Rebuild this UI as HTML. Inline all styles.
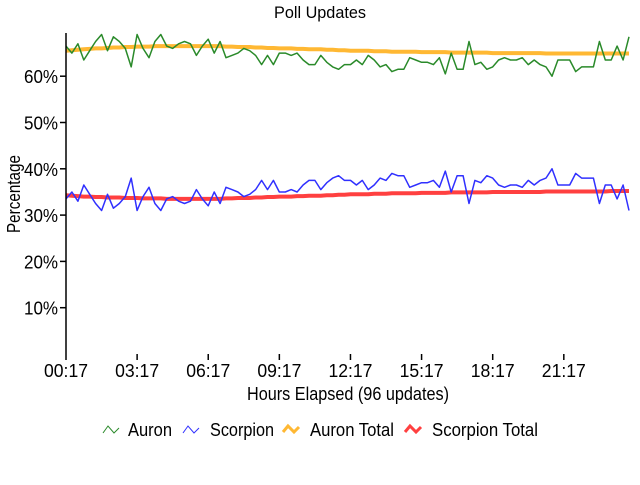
<!DOCTYPE html>
<html><head><meta charset="utf-8"><style>
body{margin:0;background:#fff;}
svg text{font-family:"Liberation Sans",sans-serif;fill:#000;}
</style></head><body>
<svg id="chart" width="640" height="480" xmlns="http://www.w3.org/2000/svg">
<text x="320" y="18" font-size="17" text-anchor="middle" textLength="92" lengthAdjust="spacingAndGlyphs">Poll Updates</text>
<g id="grid"></g>
<g id="series"></g>
<line x1="66" y1="33" x2="66" y2="354" stroke="#000" stroke-width="1.5"/>
<text transform="translate(20,194) rotate(-90)" font-size="18" text-anchor="middle" textLength="78" lengthAdjust="spacingAndGlyphs">Percentage</text>
<text x="348" y="400" font-size="18" text-anchor="middle" textLength="202" lengthAdjust="spacingAndGlyphs">Hours Elapsed (96 updates)</text>
<g font-size="18">
 <g><polyline points="103,433 108,426 114,433 119,428" fill="none" stroke="#2a8a2a" stroke-width="1"/><text x="128" y="436" textLength="44" lengthAdjust="spacingAndGlyphs">Auron</text></g>
 <g><polyline points="183,433 188,426 194,433 199,428" fill="none" stroke="#3030ff" stroke-width="1"/><text x="210" y="436" textLength="64" lengthAdjust="spacingAndGlyphs">Scorpion</text></g>
 <g><polyline points="283,432 288,426 294,432 299,427" fill="none" stroke="#ffb833" stroke-width="3"/><text x="310" y="436" textLength="84" lengthAdjust="spacingAndGlyphs">Auron Total</text></g>
 <g><polyline points="405,432 410,426 416,432 421,427" fill="none" stroke="#ff4040" stroke-width="3"/><text x="432" y="436" textLength="106" lengthAdjust="spacingAndGlyphs">Scorpion Total</text></g>
</g>
</svg>
<script>
const auron=[66.5,65,67,63.5,65.5,67.5,69,65.5,68.5,67.5,66,62,69,66,64,67.5,69,66.5,66,67,67.5,67,64.5,66.5,68,65,67.5,64,64.5,65,66,65.5,64.5,62.5,64.5,62.5,65,65,64.5,65,63.5,62.5,62.5,64.5,63,62,61.5,62.5,62.5,63.5,62.5,64.5,63.5,62,62.5,61,61.5,61.5,64,63.5,63,63,62.5,64,60.5,65,61.5,61.5,67.5,62.5,63,61.5,62,63.5,64,63.5,63.5,64,62.5,63.5,62.5,62,60,63.5,63.5,63.5,61,62,62,62,67.5,63.5,63.5,66.5,63.5,68.5];
const scorpion=[33.5,35,33,36.5,34.5,32.5,31,34.5,31.5,32.5,34,38,31,34,36,32.5,31,33.5,34,33,32.5,33,35.5,33.5,32,35,32.5,36,35.5,35,34,34.5,35.5,37.5,35.5,37.5,35,35,35.5,35,36.5,37.5,37.5,35.5,37,38,38.5,37.5,37.5,36.5,37.5,35.5,36.5,38,37.5,39,38.5,38.5,36,36.5,37,37,37.5,36,39.5,35,38.5,38.5,32.5,37.5,37,38.5,38,36.5,36,36.5,36.5,36,37.5,36.5,37.5,38,40,36.5,36.5,36.5,39,38,38,38,32.5,36.5,36.5,33.5,36.5,31];
const auronTotal=[65.5,65.6,65.7,65.8,65.9,66,66,66.1,66.2,66.2,66.3,66.3,66.4,66.4,66.4,66.5,66.5,66.5,66.5,66.5,66.5,66.5,66.5,66.5,66.5,66.5,66.5,66.4,66.4,66.3,66.3,66.3,66.2,66.2,66.1,66.1,66,66,66,65.9,65.9,65.8,65.8,65.8,65.7,65.7,65.6,65.6,65.5,65.5,65.5,65.5,65.4,65.4,65.4,65.3,65.3,65.3,65.3,65.3,65.2,65.2,65.2,65.2,65.2,65.1,65.1,65.1,65.1,65.1,65.1,65.1,65,65,65,65,65,65,65,65,65,64.9,64.9,64.9,64.9,64.9,64.9,64.9,64.9,64.9,64.9,64.9,64.9,64.9,64.9,64.9];
const scorpionTotal=[34.3,34.2,34.1,34,34,33.9,33.9,33.8,33.8,33.8,33.7,33.7,33.7,33.6,33.6,33.6,33.6,33.5,33.5,33.5,33.5,33.5,33.5,33.5,33.5,33.5,33.5,33.6,33.6,33.7,33.7,33.7,33.8,33.8,33.9,33.9,34,34,34,34.1,34.1,34.2,34.2,34.2,34.3,34.3,34.4,34.4,34.5,34.5,34.5,34.5,34.6,34.6,34.6,34.7,34.7,34.7,34.7,34.7,34.8,34.8,34.8,34.8,34.8,34.9,34.9,34.9,34.9,34.9,34.9,34.9,35,35,35,35,35,35,35,35,35,35.1,35.1,35.1,35.1,35.1,35.1,35.1,35.1,35.1,35.1,35.1,35.2,35.2,35.2,35.2];
const yTicks=[10,20,30,40,50,60];
const yTickLabels=["10%","20%","30%","40%","50%","60%"];
const xTickIdx=[0,12,24,36,48,60,72,84];
const xTickLabels=["00:17","03:17","06:17","09:17","12:17","15:17","18:17","21:17"];
const NS="http://www.w3.org/2000/svg";
const x0=66,x1=629,yBase=354,pxPer=4.63;
function xs(i){return x0+i*(x1-x0)/95;}
function ys(v){return yBase-v*pxPer;}
const grid=document.getElementById('grid'),ser=document.getElementById('series');
function mk(tag,attrs,parent){const e=document.createElementNS(NS,tag);for(const k in attrs)e.setAttribute(k,attrs[k]);parent.appendChild(e);return e;}
yTicks.forEach((v,k)=>{
 const t=mk('line',{x1:60,x2:66,y1:ys(v),y2:ys(v),stroke:'#000','stroke-width':1.5},grid);
 
 
 const l=mk('text',{x:58,y:ys(v)+7,'font-size':18,'text-anchor':'end',textLength:34,lengthAdjust:'spacingAndGlyphs'},grid);
 l.textContent=yTickLabels[k];
 
 
});
xTickIdx.forEach((i,k)=>{
 const t=mk('line',{x1:xs(i),x2:xs(i),y1:354,y2:360,stroke:'#000','stroke-width':1.5},grid);
 
 
 const l=mk('text',{x:xs(i),y:377,'font-size':18,'text-anchor':'middle',textLength:44,lengthAdjust:'spacingAndGlyphs'},grid);
 l.textContent=xTickLabels[k];
 
 
});
function line(arr,color,w,name){
 const p=mk('polyline',{points:arr.map((v,i)=>xs(i).toFixed(1)+','+ys(v).toFixed(1)).join(' '),fill:'none',stroke:color,'stroke-width':w,'stroke-linejoin':'round'},ser);
 
 
}
line(auronTotal,'#ffb833',4,'auron-total-line');
line(scorpionTotal,'#ff4040',4,'scorpion-total-line');
line(auron,'#2a8a2a',1.5,'auron-line');
line(scorpion,'#3030ff',1.5,'scorpion-line');
</script>
</body></html>
